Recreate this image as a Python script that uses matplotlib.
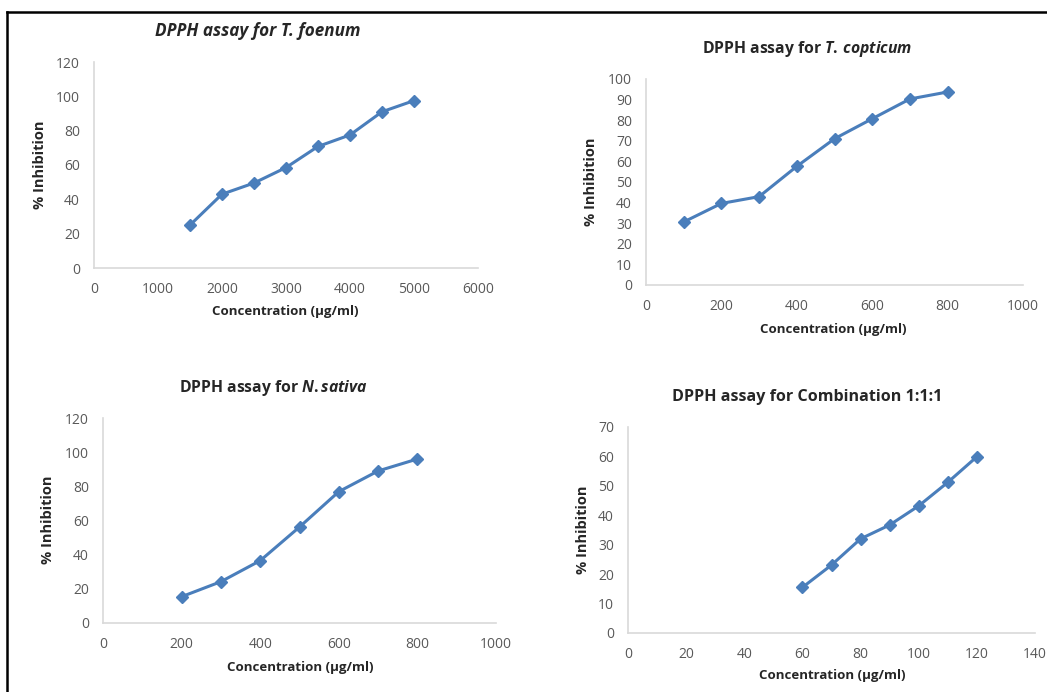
import matplotlib
matplotlib.use("Agg")
import matplotlib.pyplot as plt
from matplotlib.lines import Line2D

plt.rcParams['font.family'] = ['Open Sans', 'DejaVu Sans']
plt.rcParams['mathtext.fontset'] = 'custom'
plt.rcParams['mathtext.it'] = 'Open Sans:italic:bold'
plt.rcParams['mathtext.rm'] = 'Open Sans:bold'
plt.rcParams['mathtext.bf'] = 'Open Sans:bold'

# Data
foenum_x = [1500, 2000, 2500, 3000, 3500, 4000, 4500, 5000]
foenum_y = [25, 43, 49.5, 58.5, 70.8, 77.5, 91, 97.5]
copticum_x = [100, 200, 300, 400, 500, 600, 700, 800]
copticum_y = [30.6, 39.6, 42.9, 57.6, 71, 80.7, 90.3, 93.7]
sativa_x = [200, 300, 400, 500, 600, 700, 800]
sativa_y = [15.4, 24.2, 36.5, 56.2, 76.9, 89, 96]
combo_x = [60, 70, 80, 90, 100, 110, 120]
combo_y = [15.5, 23.1, 32, 36.7, 43.2, 51.2, 59.9]

W, H = 1047, 692
fig = plt.figure(figsize=(W / 100, H / 100), dpi=100)

LINE = '#4a7ebb'
AXC = '#d9d9d9'
TXT = '#595959'
LAB = '#262626'


def px(x, y):
    return x / W, 1 - y / H


def panel(rect, xs, ys, xlim, xticks, ylim, yticks, title, title_xy, xlab_xy, ylab_xy,
          title_style='normal', title_size=11.3):
    l, t, r, b = rect
    ax = fig.add_axes([l / W, 1 - b / H, (r - l) / W, (b - t) / H])
    ax.plot(xs, ys, color=LINE, lw=2.2, marker='D', ms=6.5, mfc=LINE, mec=LINE)
    ax.set_xlim(*xlim)
    ax.set_ylim(*ylim)
    ax.set_xticks(xticks)
    ax.set_yticks(yticks)
    for s in ['top', 'right']:
        ax.spines[s].set_visible(False)
    for s in ['left', 'bottom']:
        ax.spines[s].set_color(AXC)
        ax.spines[s].set_linewidth(1.2)
    ax.tick_params(length=0, labelsize=10, labelcolor=TXT, pad=10)
    tx, ty = px(*title_xy)
    fig.text(tx, ty, title, ha='center', va='center', fontsize=title_size,
             fontweight='bold', fontstyle=title_style, color=LAB)
    xx, xy = px(*xlab_xy)
    fig.text(xx, xy, 'Concentration (µg/ml)', ha='center', va='center',
             fontsize=9.5, fontweight='bold', color=LAB)
    yx, yy = px(*ylab_xy)
    fig.text(yx, yy, '% Inhibition', ha='center', va='center', rotation=90,
             fontsize=10.5, fontweight='bold', color=LAB)
    return ax


panel((94, 62, 478, 268), foenum_x, foenum_y, (0, 6000), range(0, 6001, 1000),
      (0, 120), range(0, 121, 20),
      'DPPH assay for T. foenum', (258, 31), (285, 312), (40, 165),
      title_style='italic', title_size=12.3)
panel((646, 79, 1023, 285), copticum_x, copticum_y, (0, 1000), range(0, 1001, 200),
      (0, 100), range(0, 101, 10),
      r'DPPH assay for $\mathit{T.\,copticum}$', (807, 49), (833, 329), (591, 182))
panel((103, 418, 496, 623), sativa_x, sativa_y, (0, 1000), range(0, 1001, 200),
      (0, 120), range(0, 121, 20),
      r'DPPH assay for $\mathit{N.sativa}$', (273, 388), (300, 667), (48, 520))
panel((628, 427, 1035, 633), combo_x, combo_y, (0, 140), range(0, 141, 20),
      (0, 70), range(0, 71, 10),
      'DPPH assay for Combination 1:1:1', (807, 397), (832, 675), (583, 530),
      title_size=11.6)

# Frame border (top and left)
fig.add_artist(Line2D([7 / W, 1], [1 - 12 / H, 1 - 12 / H], color='black', lw=1.8,
                      transform=fig.transFigure))
fig.add_artist(Line2D([7 / W, 7 / W], [0, 1 - 12 / H], color='black', lw=1.8,
                      transform=fig.transFigure))

fig.savefig('out.png', dpi=100)
